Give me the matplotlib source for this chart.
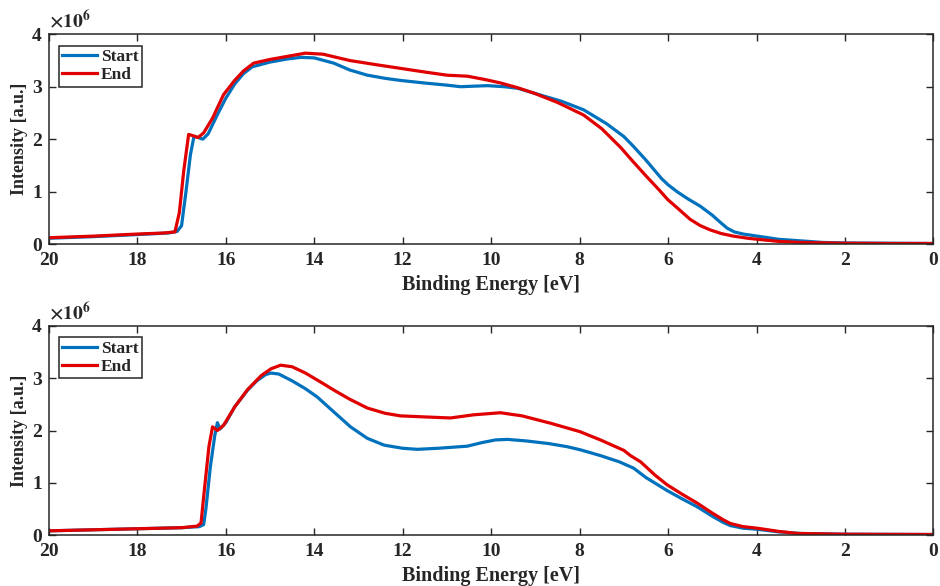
import matplotlib
matplotlib.use('Agg')
from matplotlib import pyplot as plt

# spectra, intensity in units of 1e6
top_start_e = [20, 19, 18, 17.3, 17.1, 17.0, 16.9, 16.8, 16.72, 16.62, 16.52, 16.4, 16.2, 16.0,
               15.8, 15.6, 15.4, 15.0, 14.6, 14.3, 14.0, 13.56, 13.2, 12.8, 12.4, 12.05, 11.5,
               11.0, 10.69, 10.4, 10.08, 9.7, 9.4, 8.88, 8.4, 7.91, 7.4, 7.0, 6.78, 6.5, 6.3,
               6.15, 6.0, 5.8, 5.55, 5.27, 5.0, 4.8, 4.66, 4.5, 4.3, 3.98, 3.5, 3.0, 2.5, 2.0,
               1.0, 0.0]
top_start_i = [0.11, 0.14, 0.18, 0.21, 0.24, 0.35, 1.0, 1.7, 2.05, 2.03, 2.0, 2.1, 2.45, 2.78,
               3.05, 3.25, 3.38, 3.47, 3.53, 3.56, 3.55, 3.45, 3.32, 3.22, 3.16, 3.12, 3.07,
               3.03, 3.0, 3.01, 3.02, 3.0, 2.97, 2.84, 2.72, 2.56, 2.3, 2.05, 1.86, 1.6, 1.4,
               1.25, 1.13, 1.0, 0.86, 0.72, 0.55, 0.4, 0.3, 0.23, 0.19, 0.15, 0.09, 0.06, 0.03, 0.02,
               0.015, 0.01]

top_end_e = [20, 19, 18, 17.4, 17.15, 17.05, 16.95, 16.84, 16.72, 16.63, 16.5, 16.3, 16.05,
             15.8, 15.6, 15.37, 15.0, 14.6, 14.2, 13.8, 13.2, 12.6, 12.05, 11.5, 11.0, 10.53,
             10.1, 9.78, 9.4, 9.04, 8.5, 7.91, 7.5, 7.07, 6.8, 6.5, 6.2, 6.01, 5.7, 5.5, 5.27,
             5.05, 4.8, 4.52, 4.2, 3.98, 3.5, 3.0, 2.0, 1.0, 0.0]
top_end_i = [0.12, 0.15, 0.19, 0.21, 0.23, 0.6, 1.4, 2.09, 2.06, 2.03, 2.12, 2.4, 2.85,
             3.12, 3.3, 3.45, 3.52, 3.58, 3.64, 3.62, 3.5, 3.42, 3.35, 3.28, 3.22, 3.2,
             3.13, 3.07, 2.98, 2.88, 2.7, 2.46, 2.2, 1.84, 1.58, 1.3, 1.03, 0.85, 0.62, 0.47, 0.35,
             0.27, 0.2, 0.15, 0.11, 0.09, 0.05, 0.03, 0.015, 0.01, 0.01]

bot_start_e = [20, 19, 18, 17.0, 16.6, 16.5, 16.45, 16.35, 16.25, 16.19, 16.13, 16.0, 15.8,
               15.51, 15.3, 15.1, 14.98, 14.8, 14.5, 14.2, 13.93, 13.55, 13.18, 12.8, 12.42,
               12.0, 11.67, 11.2, 10.54, 10.2, 9.9, 9.63, 9.2, 8.7, 8.28, 7.98, 7.53, 7.1, 6.78,
               6.5, 6.02, 5.7, 5.34, 5.0, 4.75, 4.59, 4.3, 3.98, 3.5, 3.0, 2.0, 0.0]
bot_start_i = [0.08, 0.10, 0.12, 0.14, 0.16, 0.2, 0.5, 1.3, 1.9, 2.15, 2.03, 2.15, 2.45,
               2.77, 2.95, 3.07, 3.1, 3.08, 2.95, 2.8, 2.64, 2.35, 2.07, 1.85, 1.72,
               1.66, 1.64, 1.66, 1.70, 1.77, 1.82, 1.83, 1.80, 1.75, 1.69, 1.63, 1.52, 1.40, 1.28,
               1.10, 0.85, 0.70, 0.54, 0.36, 0.24, 0.18, 0.13, 0.11, 0.06, 0.03, 0.015, 0.01]

bot_end_e = [20, 19, 18, 17.0, 16.65, 16.56, 16.48, 16.38, 16.3, 16.19, 16.05, 15.8, 15.51,
             15.2, 14.98, 14.76, 14.5, 14.2, 13.9, 13.55, 13.2, 12.8, 12.4, 12.05, 11.5, 10.92,
             10.4, 9.79, 9.3, 8.66, 8.0, 7.53, 7.0, 6.85, 6.62, 6.3, 6.02, 5.7, 5.34, 5.0, 4.75,
             4.59, 4.3, 3.98, 3.5, 3.08, 2.0, 0.0]
bot_end_i = [0.08, 0.10, 0.12, 0.14, 0.17, 0.23, 0.9, 1.7, 2.07, 2.0, 2.1, 2.45, 2.78,
             3.05, 3.18, 3.25, 3.22, 3.1, 2.95, 2.77, 2.6, 2.43, 2.33, 2.28, 2.26, 2.24,
             2.30, 2.34, 2.28, 2.14, 1.98, 1.82, 1.62, 1.52, 1.40, 1.15, 0.96, 0.79, 0.61, 0.42, 0.29,
             0.22, 0.16, 0.13, 0.07, 0.03, 0.015, 0.01]

x_ticks = [20, 18, 16, 14, 12, 10, 8, 6, 4, 2, 0]
y_ticks = [0, 1, 2, 3, 4]
labels = ['Start', 'End']

plt.rcParams['font.family'] = 'Liberation Serif'
plt.rcParams['font.weight'] = 'bold'
plt.rcParams['mathtext.fontset'] = 'stix'

blue = '#0072BD'
red = '#E00000'
dark = '#262626'

fig = plt.figure(figsize=(9.4, 5.86), dpi=100)
ax1 = fig.add_axes([0.052, 0.5836, 0.941, 0.3579])
ax2 = fig.add_axes([0.052, 0.0870, 0.941, 0.3567])

panels = [(ax1, top_start_e, top_start_i, top_end_e, top_end_i),
          (ax2, bot_start_e, bot_start_i, bot_end_e, bot_end_i)]

for ax, se, si, ee, ei in panels:
    ax.plot(se, si, color=blue, lw=2.3, label=labels[0])
    ax.plot(ee, ei, color=red, lw=2.3, label=labels[1])
    ax.set_xlim(20, 0)
    ax.set_ylim(0, 4)
    ax.set_xticks(x_ticks)
    ax.set_yticks(y_ticks)
    ax.tick_params(direction='in', top=True, right=True, length=5, width=1,
                   labelsize=14, colors=dark)
    ax.tick_params(axis='x', pad=6)
    ax.tick_params(axis='y', pad=5)
    for sp in ax.spines.values():
        sp.set_color(dark)
        sp.set_linewidth(1.1)
    ax.set_xlabel('Binding Energy [eV]', fontsize=14.5, fontweight='bold', color=dark, labelpad=4)
    ax.set_ylabel('Intensity [a.u.]', fontsize=13, fontweight='bold', color=dark, labelpad=3)
    ax.text(0.0, 1.01, r'$\times\mathbf{10^{6}}$', transform=ax.transAxes,
            fontsize=14, color=dark, ha='left', va='bottom')
    leg = ax.legend(loc='upper left', bbox_to_anchor=(0.011, 0.945), fontsize=12.5,
                    handlelength=2.0, handletextpad=0.25, borderpad=0.2,
                    labelspacing=0.1, fancybox=False, framealpha=1, borderaxespad=0)
    leg.get_frame().set_edgecolor(dark)
    leg.get_frame().set_linewidth(1.1)
    for t in leg.get_texts():
        t.set_color(dark)
        t.set_fontweight('bold')

plt.savefig('out.png', dpi=100)
